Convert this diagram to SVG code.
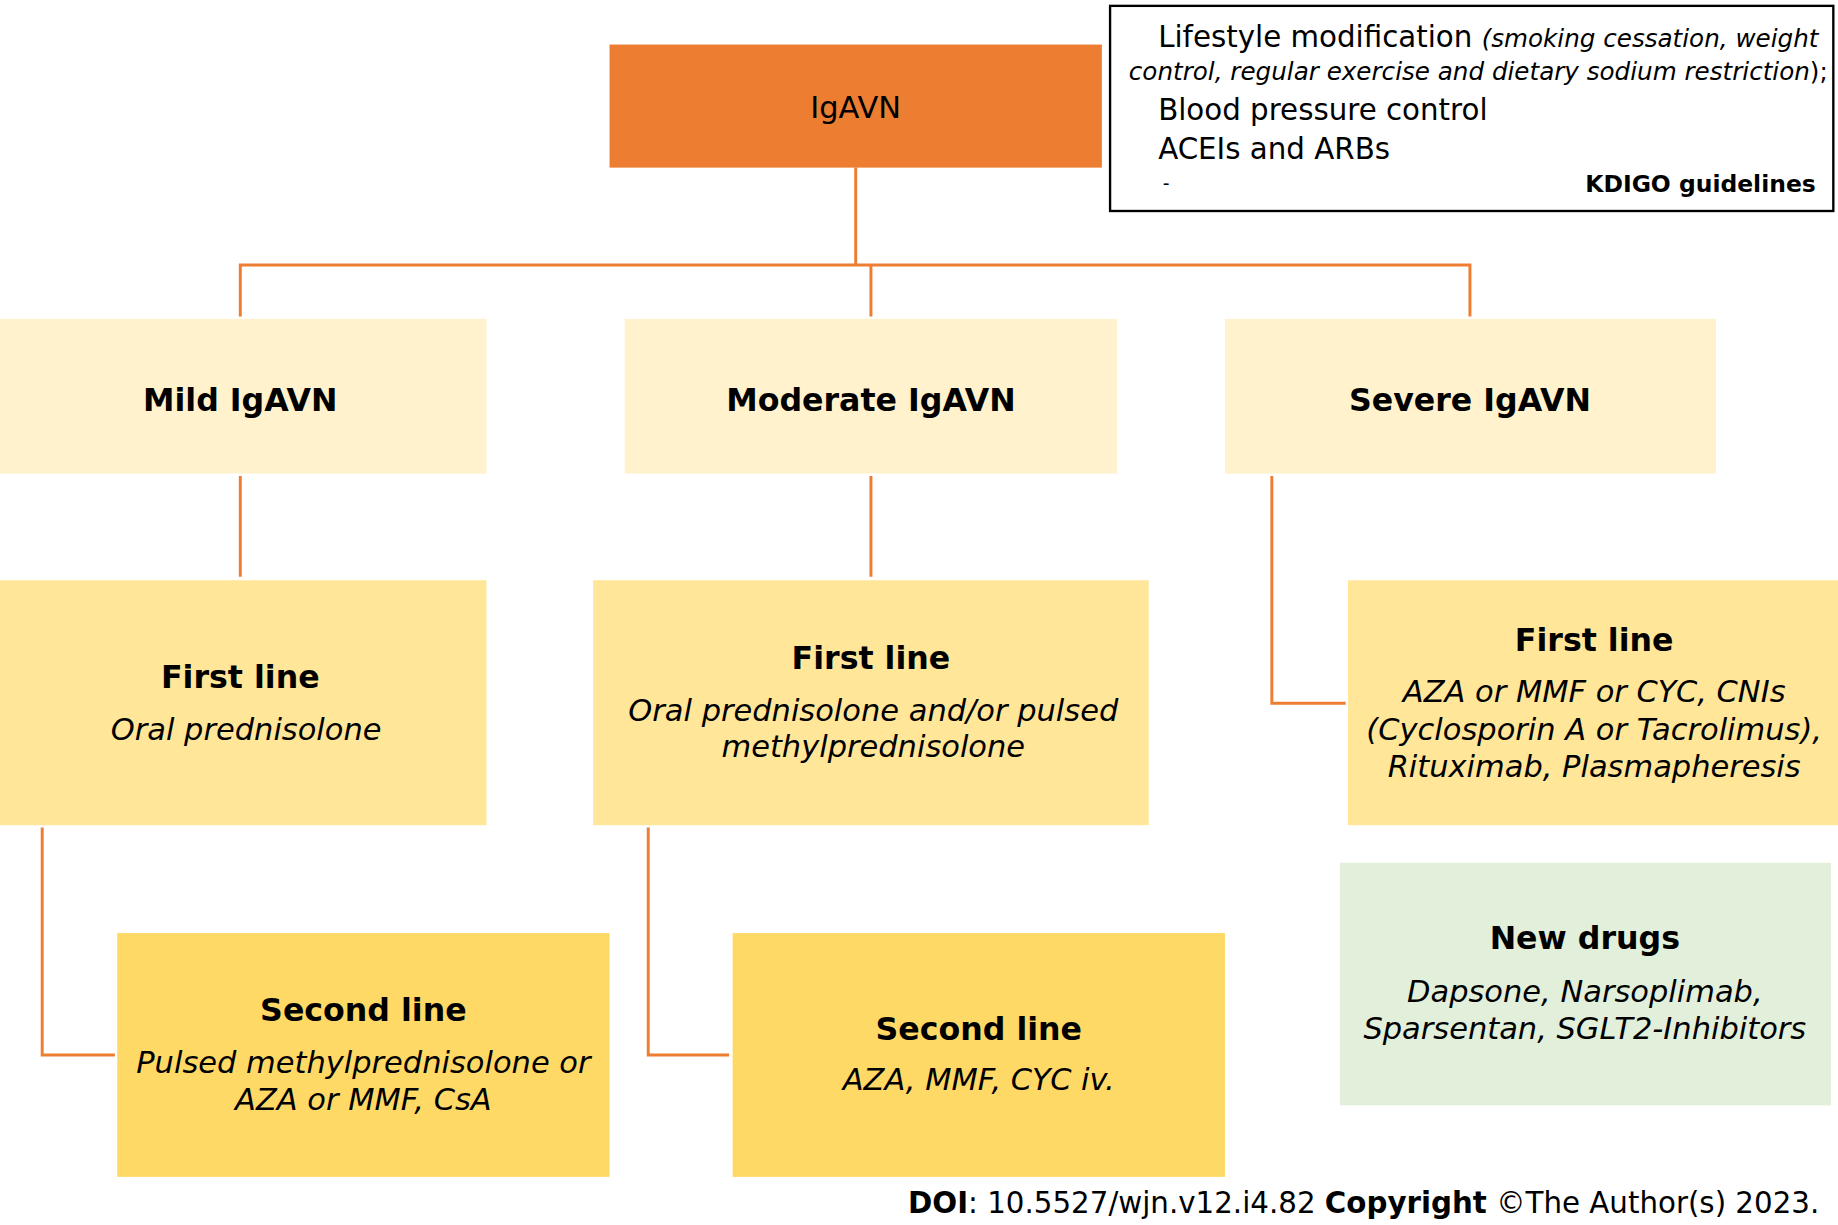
<svg xmlns="http://www.w3.org/2000/svg" width="1838" height="1225" viewBox="0 0 1838 1225">
<style>
text{font-family:"DejaVu Sans",Verdana,sans-serif;fill:#000}
.t{font-size:27px;font-weight:bold;text-anchor:middle}
.i{font-size:26px;font-style:italic;text-anchor:middle}
.c{stroke:#ED7D31;stroke-width:2.5;fill:none}
</style>
<rect width="1838" height="1225" fill="#fff"/>
<g transform="scale(1.1722)">
<g id="connectors">
<path class="c" d="M730 143V226M205 270V226H1254V270M743 226V270M205 406V492M743 406V492M1085 406V600H1148M36 706V900H98M553 706V900H622"/>
</g>
<g id="root"><rect x="520" y="38" width="420" height="105" fill="#ED7D31"/><text x="730" y="101" font-size="26" text-anchor="middle">IgAVN</text></g>
<g id="kdigo"><rect x="947" y="5" width="617" height="175" fill="#fff" stroke="#000" stroke-width="2"/>
<text x="988" y="40" font-size="25">Lifestyle modification <tspan font-size="21" font-style="italic">(smoking cessation, weight</tspan></text>
<text x="963" y="68" font-size="21" font-style="italic">control, regular exercise and dietary sodium restriction<tspan font-style="normal">);</tspan></text>
<text x="988" y="102" font-size="25">Blood pressure control</text>
<text x="988" y="136" font-size="25">ACEIs and ARBs</text>
<text x="992" y="162" font-size="16">-</text>
<text x="1549" y="164" font-size="20" font-weight="bold" text-anchor="end">KDIGO guidelines</text></g>
<g id="mild"><rect x="0" y="272" width="415" height="132" fill="#FFF2CC"/><text class="t" x="205" y="351">Mild IgAVN</text></g>
<g id="moderate"><rect x="533" y="272" width="420" height="132" fill="#FFF2CC"/><text class="t" x="743" y="351">Moderate IgAVN</text></g>
<g id="severe"><rect x="1045" y="272" width="419" height="132" fill="#FFF2CC"/><text class="t" x="1254" y="351">Severe IgAVN</text></g>
<g id="mild1"><rect x="0" y="495" width="415" height="209" fill="#FFE699"/><text class="t" x="205" y="587">First line</text><text class="i" x="210" y="631">Oral prednisolone</text></g>
<g id="mod1"><rect x="506" y="495" width="474" height="209" fill="#FFE699"/><text class="t" x="743" y="571">First line</text><text class="i" x="745" y="615">Oral prednisolone and/or pulsed</text><text class="i" x="745" y="646">methylprednisolone</text></g>
<g id="sev1"><rect x="1150" y="495" width="418" height="209" fill="#FFE699"/><text class="t" x="1360" y="555">First line</text><text class="i" x="1360" y="599">AZA or MMF or CYC, CNIs</text><text class="i" x="1360" y="631">(Cyclosporin A or Tacrolimus),</text><text class="i" x="1360" y="663">Rituximab, Plasmapheresis</text></g>
<g id="mild2"><rect x="100" y="796" width="420" height="208" fill="#FFD966"/><text class="t" x="310" y="871">Second line</text><text class="i" x="310" y="915">Pulsed methylprednisolone or</text><text class="i" x="310" y="947">AZA or MMF, CsA</text></g>
<g id="mod2"><rect x="625" y="796" width="420" height="208" fill="#FFD966"/><text class="t" x="835" y="887">Second line</text><text class="i" x="835" y="930">AZA, MMF, CYC iv.</text></g>
<g id="newdrugs"><rect x="1143" y="736" width="419" height="207" fill="#E2EFDA"/><text class="t" x="1352" y="810">New drugs</text><text class="i" x="1352" y="855">Dapsone, Narsoplimab,</text><text class="i" x="1352" y="886">Sparsentan, SGLT2-Inhibitors</text></g>
<text x="1552" y="1035" font-size="25" text-anchor="end"><tspan font-weight="bold">DOI</tspan>: 10.5527/wjn.v12.i4.82 <tspan font-weight="bold">Copyright</tspan> ©The Author(s) 2023.</text>
</g>
</svg>
